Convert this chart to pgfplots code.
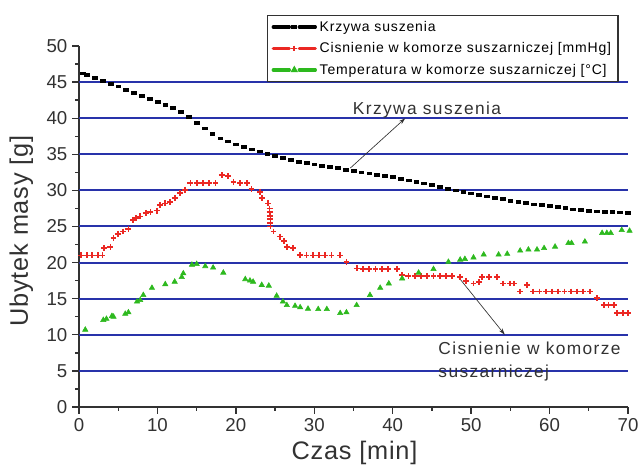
\documentclass[border=0pt]{standalone}
\usepackage{fontspec}
\setmainfont{Liberation Sans}
\newfontfamily\legfont[LetterSpace=6]{Liberation Sans}
\newfontfamily\annfont[LetterSpace=8]{Liberation Sans}
\newfontfamily\labfont[LetterSpace=3]{Liberation Sans}
\usepackage{pgfplots}
\pgfplotsset{compat=1.18}
\usetikzlibrary{arrows.meta}
\definecolor{gridblue}{RGB}{40,50,170}
\definecolor{myred}{RGB}{235,40,35}
\definecolor{mygreen}{RGB}{45,185,30}
\definecolor{txt}{RGB}{50,50,50}
\begin{document}
\begin{tikzpicture}
\begin{axis}[
  at={(0,0)}, anchor=south west,
  scale only axis, width=411.75pt, height=270.75pt,
  xmin=0, xmax=70, ymin=0, ymax=50,
  axis lines=left, axis line style={-, line width=1pt, draw=txt},
  xtick={0,10,...,70}, ytick={0,5,...,50},
  minor x tick num=1, minor y tick num=1,
  tick align=outside, major tick length=5.25pt, minor tick length=3pt,
  tick style={line width=1pt, draw=txt},
  ticklabel style={font=\fontsize{14}{16}\selectfont, text=txt},
  /pgf/number format/assume math mode=true,
  clip=false,
  legend style={at={(0.3424,1.0859)}, anchor=north west, draw=txt, line width=1pt,
    font=\legfont\fontsize{10.5}{12}\selectfont, inner xsep=3pt, inner ysep=2pt,
    row sep=3pt, cells={anchor=west}, text=black},
  legend cell align=left,
  legend image code/.code={
    \draw[line width=2.5pt, line cap=round, mark=none] (0pt,0pt) -- (12pt,0pt) (19.5pt,0pt) -- (31.5pt,0pt);
    \draw plot coordinates {(15.75pt,0pt)};
  },
]
\pgfplotsinvokeforeach{5,10,15,20,25,30,35,40,45}{\draw[gridblue, line width=1.5pt] (axis cs:0,#1) -- (axis cs:70,#1);}

\addplot[only marks, mark=square*, mark size=1pt, mark options={xscale=1.8}, black] coordinates {
(0.5,46.2)(1,46.0)(2,45.6)(3,45.2)(4,44.8)(5,44.4)(6,43.9)(7,43.5)(8,43.1)(9,42.7)
(10,42.3)(11,41.9)(12,41.4)(13,40.9)(14,40.2)(15,39.4)(16,38.6)(17,37.8)(18,37.2)(19,36.8)
(20,36.4)(21,36.0)(22,35.7)(23,35.4)(24,35.1)(25,34.8)(26,34.5)(27,34.2)(28,34.0)(29,33.8)
(30,33.6)(31,33.4)(32,33.25)(33,33.1)(34,32.9)(35,32.7)(36,32.5)(37,32.35)(38,32.2)(39,32.0)
(40,31.85)(41,31.6)(42,31.4)(43,31.2)(44,31.0)(45,30.75)(46,30.5)(47,30.25)(48,30.0)(49,29.8)
(50,29.6)(51,29.4)(52,29.2)(53,29.0)(54,28.8)(55,28.6)(56,28.4)(57,28.25)(58,28.1)(59,28.0)
(60,27.9)(61,27.7)(62,27.55)(63,27.4)(64,27.3)(65,27.2)(66,27.1)(67,27.05)(68,27.0)(69,26.95)(70,26.9)
};
\addlegendentry{Krzywa suszenia}

\addplot[only marks, mark=+, mark size=2.2pt, line width=1.3pt, myred] coordinates {
(0.3,21)(1,21)(1.7,21)(2.4,21)(3,21)(3.2,22)(4,22.2)(4.4,23.4)(5,24)(5.6,24.3)(6.3,24.7)
(6.9,25.9)(7.3,26.2)(7.8,26.4)(8.5,26.9)(9.1,27)(9.9,27.2)(10.3,28)(11,28.2)(11.6,28.4)
(12.2,28.9)(12.9,29.6)(13.5,30.1)(14.2,31)(15,31)(15.8,31)(16.6,31)(17.4,31)(18.2,32.1)
(19,32)(19.7,31.2)(20.5,31)(21.4,31)(22,30.2)(23.1,29.8)(23.3,28.9)(24.1,28.2)(24.3,27.5)(24.3,27)
(24.4,26.5)(24.4,26)(24.4,25.5)(24.4,25)(24.8,24.3)(25.6,23.6)(26.1,23)(26.5,22.2)(27.3,22)(28.2,21.05)(29,21)
(29.8,21)(30.6,21)(31.4,21)(32.2,21)(33.3,21)(34.1,20.1)(35.4,19.2)(36.2,19.1)(37,19.1)
(37.8,19.1)(38.6,19.1)(39.4,19.1)(40.5,19.1)(41.2,18.3)(42,18.1)(42.8,18.1)(43.6,18.1)
(44.4,18.1)(45.2,18.1)(46,18.1)(46.8,18.1)(47.6,18.1)(48.6,18)(49.3,17.5)(50.3,17.1)
(51,17.3)(51.4,18)(52.3,18)(53.3,18)(54.1,17.1)(55,17.1)(55.5,17.1)(56.25,16)(57.1,16.9)
(57.9,16)(58.7,16)(59.5,16)(60.3,16)(61.1,16)(61.9,16)(62.7,16)(63.5,16)(64.3,16)(65.2,16)
(66,15.05)(66.9,14.1)(67.5,14.1)(68.2,14.1)(68.6,13)(69.4,13)(70,13)
};
\addlegendentry{Cisnienie w komorze suszarniczej [mmHg]}

\addplot[only marks, mark=triangle*, mark size=2.3pt, mygreen] coordinates {
(0.8,10.7)(3.1,12.05)(3.5,12.2)(4.2,12.6)(4.4,12.5)(5.9,12.9)(6.3,13.1)(7.4,14.6)(7.8,14.8)
(8.2,15.5)(9.3,16.5)(11,17)(12.2,17.35)(13.1,18)(13.3,18.5)(14.4,19.7)(15,19.8)(16.1,19.5)
(17.1,19.3)(18.4,18.6)(21.2,17.7)(21.8,17.5)(22.2,17.35)(23.3,16.9)(24.2,16.8)(25.2,15.4)
(26,14.6)(26.5,14.1)(27.55,14)(28.2,13.8)(29.2,13.6)(30.5,13.55)(31.6,13.55)(33.3,13)
(34.1,13.1)(35.4,14.1)(37.1,15.5)(38.4,16.5)(39.5,17.1)(41.2,17.8)(43.3,18.6)(45.2,19.1)
(47.1,20.1)(48.6,20.4)(49.2,20.5)(50.3,20.7)(51.6,21.1)(53.5,21.1)(54.6,21.2)(56.25,21.65)
(57.3,21.8)(58.4,21.8)(59.3,22)(60.7,22.2)(62.4,22.7)(62.8,22.7)(64.5,22.9)(66.7,24.1)
(67.3,24.1)(67.8,24.1)(69.2,24.5)(70.2,24.4)
};
\addlegendentry{Temperatura w komorze suszarniczej [°C]}

\node[anchor=base west, font=\annfont\fontsize{13}{15}\selectfont, text=txt, inner sep=0pt] at (axis cs:34.9,40.45) {Krzywa suszenia};
\draw[-{Stealth[length=5pt,width=3pt]}, line width=0.5pt, txt] (axis cs:34.6,33.1) -- (axis cs:41.6,40.0);
\node[anchor=base west, font=\annfont\fontsize{13}{15}\selectfont, text=txt, inner sep=0pt] at (axis cs:45.8,7.3) {Cisnienie w komorze};
\node[anchor=base west, font=\annfont\fontsize{13}{15}\selectfont, text=txt, inner sep=0pt] at (axis cs:45.8,4.15) {suszarniczej};
\draw[-{Stealth[length=5pt,width=3pt]}, line width=0.5pt, txt] (axis cs:48.3,18.1) -- (axis cs:54.3,10);
\end{axis}
\node[anchor=base, font=\labfont\fontsize{19}{22}\selectfont, text=txt, inner sep=0pt] at (206.6pt,-39.5pt) {Czas [min]};
\node[rotate=90, anchor=base, font=\labfont\fontsize{19}{22}\selectfont, text=txt, inner sep=0pt] at (-38.25pt,132pt) {Ubytek masy [g]};
\pgfresetboundingbox
\path[use as bounding box] (-59.25pt,-44.25pt) rectangle (421.5pt,305.25pt);
\end{tikzpicture}
\end{document}
